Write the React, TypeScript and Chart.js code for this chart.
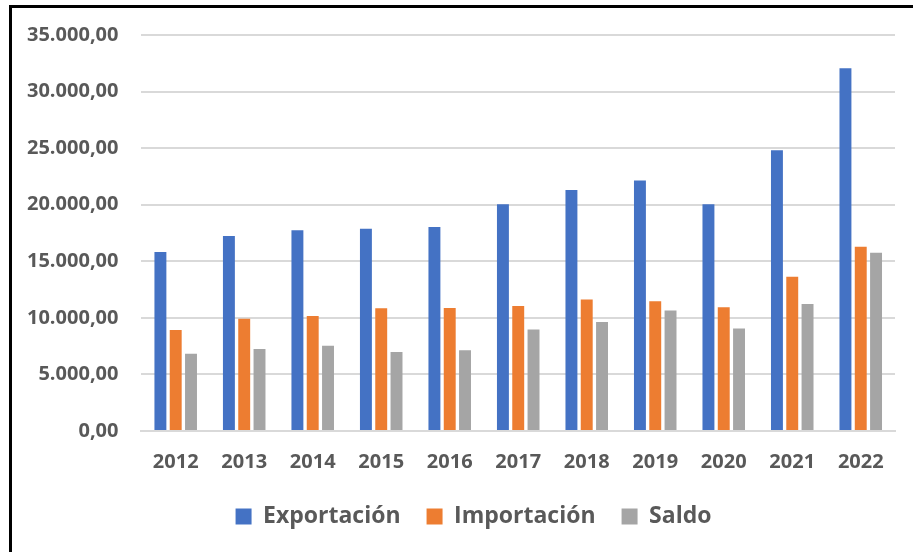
import React, { useEffect, useRef } from "react";
import { Chart, registerables } from "chart.js";

Chart.register(...registerables);

const years = ["2012", "2013", "2014", "2015", "2016", "2017", "2018", "2019", "2020", "2021", "2022"];
const exportacion = [15810, 17230, 17750, 17870, 18020, 20050, 21290, 22150, 20030, 24820, 32070];
const importacion = [8920, 9920, 10160, 10840, 10870, 11040, 11630, 11460, 10930, 13630, 16280];
const saldo = [6830, 7240, 7540, 6980, 7130, 8980, 9630, 10660, 9070, 11220, 15750];

const fmt = (v: number) =>
  v.toLocaleString("de-DE", { minimumFractionDigits: 2, maximumFractionDigits: 2 });

const legendShift = {
  id: "legendShift",
  afterLayout(chart: any) {
    const l = chart.legend;
    if (!l) return;
    const sy = 14;
    const sx = 24;
    l.top -= sy;
    l.bottom -= sy;
    l.left += sx;
    l.right += sx;
  },
};

export default function App() {
  const ref = useRef<HTMLCanvasElement | null>(null);
  useEffect(() => {
    if (!ref.current) return;
    const textColor = "#595959";
    const font = "Open Sans";
    const mk = (label: string, data: number[], color: string) => ({
      label,
      data,
      backgroundColor: color,
      borderWidth: 0,
      categoryPercentage: 0.67,
      barPercentage: 0.78,
    });
    const chart = new Chart(ref.current, {
      type: "bar",
      data: {
        labels: years,
        datasets: [
          mk("Exportación", exportacion, "#4472C4"),
          mk("Importación", importacion, "#ED7D31"),
          mk("Saldo", saldo, "#A5A5A5"),
        ],
      },
      plugins: [legendShift],
      options: {
        animation: false,
        responsive: false,
        maintainAspectRatio: false,
        layout: { padding: { top: 23, right: 18, left: 4, bottom: 0 } },
        plugins: {
          tooltip: { enabled: false },
          legend: {
            position: "bottom",
            maxHeight: 59,
            labels: {
              color: textColor,
              font: { family: font, size: 23, weight: "bold" },
              boxWidth: 16,
              boxHeight: 16,
              padding: 26,
            },
          },
        },
        scales: {
          x: {
            grid: { display: false, drawTicks: false },
            border: { color: "#d9d9d9", width: 2 },
            ticks: {
              color: textColor,
              font: { family: font, size: 20, weight: "bold" },
              padding: 19,
            },
          },
          y: {
            min: 0,
            max: 35000,
            grid: { color: "#d9d9d9", lineWidth: 2, drawTicks: false },
            border: { display: false },
            ticks: {
              stepSize: 5000,
              color: textColor,
              font: { family: font, size: 20, weight: "bold" },
              padding: 23,
              callback: (v: any) => fmt(Number(v)),
            },
          },
        },
      },
    });
    return () => chart.destroy();
  }, []);
  return (
    <div style={{ position: "fixed", left: 0, top: 0, width: 913, height: 552, background: "#fff", overflow: "hidden" }}>
      <canvas ref={ref} width={913} height={552} style={{ position: "absolute", left: 0, top: 0 }} />
      <div
        style={{
          position: "absolute",
          left: 9,
          top: 5,
          width: 1000,
          height: 700,
          border: "3px solid #000",
          boxSizing: "border-box",
          pointerEvents: "none",
        }}
      />
    </div>
  );
}
